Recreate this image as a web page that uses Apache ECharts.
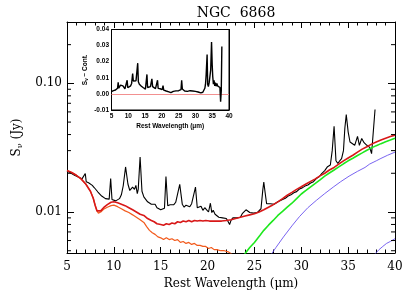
<!DOCTYPE html>
<html><head><meta charset="utf-8">
<script src="https://cdn.jsdelivr.net/npm/echarts@6/dist/echarts.min.js"></script>
<style>html,body{margin:0;padding:0;background:#fff}#c{width:415px;height:297px}</style>
</head><body><div id="c"></div>
<script>
// ---- main panel data ----
const specWave = [5.0,5.2,5.4,5.6,5.8,6.0,6.2,6.4,6.6,6.8,6.95,7.05,7.3,7.5,7.7,7.9,8.1,8.3,8.5,8.7,8.9,9.1,9.3,9.5,9.66,9.8,10.0,10.2,10.4,10.6,10.8,11.0,11.25,11.5,11.7,11.9,12.0,12.2,12.35,12.5,12.6,12.8,13.0,13.2,13.4,13.6,13.8,14.0,14.2,14.4,14.6,14.8,15.0,15.2,15.4,15.56,15.75,16.0,16.2,16.4,16.6,16.8,17.03,17.3,17.5,17.7,17.9,18.1,18.3,18.5,18.71,18.9,19.1,19.3,19.5,19.7,19.9,20.1,20.3,20.45,20.6,20.8,21.0,21.2,21.4,21.6,21.8,22.0,22.2,22.35,22.5,22.7,22.9,23.1,23.3,23.5,23.7,23.9,24.1,24.3,24.5,24.7,24.9,25.1,25.3,25.5,25.7,25.9,26.0,26.15,26.3,26.5,26.7,26.9,27.1,27.3,27.5,27.7,28.0,28.3,28.6,28.9,29.2,29.5,29.8,30.1,30.4,30.7,31.0,31.3,31.6,31.9,32.2,32.5,32.8,33.1,33.3,33.5,33.7,33.9,34.1,34.3,34.5,34.65,34.8,35.0,35.2,35.4,35.7,36.0,36.2,36.45,36.7,37.0,37.3,37.5,37.87];
const specFlux = [0.0208,0.0203,0.0201,0.0195,0.0193,0.0188,0.0187,0.0184,0.0181,0.0175,0.0199,0.0172,0.0169,0.0164,0.0161,0.0155,0.0151,0.0143,0.0140,0.0133,0.0131,0.0127,0.0127,0.0126,0.0182,0.0125,0.0125,0.0122,0.0126,0.0127,0.0136,0.0160,0.0224,0.0165,0.0147,0.0151,0.0156,0.0150,0.0161,0.0139,0.0150,0.0268,0.0145,0.0131,0.0128,0.0120,0.0123,0.0115,0.0114,0.0115,0.0108,0.0108,0.0104,0.0102,0.0107,0.0189,0.0112,0.0114,0.0118,0.0114,0.0119,0.0122,0.0164,0.0115,0.0109,0.0113,0.0114,0.0110,0.0116,0.0112,0.0156,0.0108,0.0106,0.0111,0.0103,0.0108,0.0104,0.0100,0.0117,0.0099,0.0103,0.0096,0.0094,0.0091,0.0090,0.0090,0.0087,0.0089,0.0084,0.0080,0.0086,0.0090,0.0087,0.0090,0.0093,0.0091,0.0097,0.0100,0.0104,0.0101,0.0099,0.0101,0.0098,0.0097,0.0099,0.0099,0.0106,0.0150,0.0171,0.0140,0.0116,0.0113,0.0116,0.0112,0.0115,0.0116,0.0120,0.0120,0.0125,0.0128,0.0133,0.0136,0.0141,0.0144,0.0151,0.0154,0.0159,0.0162,0.0168,0.0172,0.0182,0.0188,0.0200,0.0210,0.0225,0.0232,0.0300,0.0464,0.0250,0.0238,0.0250,0.0260,0.0300,0.0450,0.0571,0.0420,0.0350,0.0340,0.0330,0.0387,0.0330,0.0373,0.0346,0.0330,0.0318,0.0284,0.0627];

const totalWave = [5.0,5.5,6.0,6.5,7.0,7.5,7.8,8.0,8.2,8.35,8.6,8.9,9.3,9.7,10.0,10.4,10.8,11.2,11.6,12.0,12.4,12.8,13.2,13.6,14.0,14.3,14.6,15.0,15.3,15.6,15.9,16.2,16.5,16.8,17.1,17.4,17.7,18.0,18.3,18.6,18.9,19.2,19.5,19.8,20.2,20.6,21.0,21.5,22.0,22.5,23.0,23.5,24.0,24.5,25.0,25.5,26.0,26.5,27.0,27.5,28.0,28.5,29.0,29.5,30.0,30.5,31.0,31.5,32.0,32.5,33.0,33.5,34.0,34.5,35.0,35.5,36.0,36.5,37.0,37.5,38.0,38.5,39.0,39.5,40.0];
const totalFlux = [0.0210,0.0203,0.0193,0.0181,0.0165,0.0145,0.0128,0.0113,0.0102,0.0099,0.0102,0.0108,0.0114,0.0119,0.0120,0.0118,0.0115,0.0112,0.0108,0.0104,0.0100,0.0096,0.0094,0.0089,0.0086,0.0084,0.0081,0.0080,0.0079,0.0081,0.0080,0.0082,0.0081,0.0084,0.0083,0.0085,0.0084,0.0086,0.0084,0.0086,0.0085,0.0086,0.0085,0.0086,0.0085,0.0085,0.0085,0.0085,0.0086,0.0087,0.0089,0.0091,0.0093,0.0095,0.0097,0.0100,0.0104,0.0109,0.0114,0.0120,0.0127,0.0135,0.0142,0.0150,0.0157,0.0165,0.0173,0.0181,0.0191,0.0200,0.0212,0.0222,0.0236,0.0250,0.0263,0.0276,0.0292,0.0308,0.0322,0.0337,0.0350,0.0363,0.0375,0.0386,0.0396];

const starWave = [5.0,5.5,6.0,6.5,7.0,7.5,7.8,8.0,8.2,8.35,8.6,8.9,9.3,9.7,10.0,10.4,10.8,11.2,11.6,12.0,12.4,12.8,13.2,13.5,13.8,14.1,14.4,14.7,15.0,15.3,15.6,15.9,16.2,16.5,16.8,17.1,17.4,17.7,18.0,18.3,18.6,18.9,19.2,19.5,19.8,20.1,20.4,20.7,21.0,21.4,21.8,22.2,22.6,23.0];
const starFlux = [0.0210,0.0203,0.0193,0.0181,0.0165,0.0145,0.0128,0.0113,0.0102,0.0098,0.0100,0.0105,0.0109,0.0112,0.0113,0.0110,0.0106,0.0102,0.0099,0.0095,0.0091,0.0087,0.0083,0.0077,0.0072,0.0069,0.0067,0.0064,0.0063,0.0061,0.0063,0.0061,0.0062,0.0060,0.0061,0.0058,0.0059,0.0057,0.0058,0.0056,0.0057,0.0055,0.0055,0.0054,0.0054,0.0052,0.0053,0.0051,0.0051,0.0050,0.0050,0.0049,0.0047,0.0045];

const greenWave = [23.5,24.0,24.5,25.0,25.6,26.0,26.5,27.0,27.5,28.0,28.5,29.0,29.5,30.0,30.5,31.0,31.5,32.0,32.5,33.0,33.5,34.0,34.5,35.0,35.5,36.0,36.5,37.0,37.5,38.0,38.5,39.0,39.5,40.0];
const greenFlux = [0.0041,0.00475,0.0053,0.0058,0.0066,0.0072,0.0079,0.0086,0.0094,0.0101,0.0109,0.0117,0.0127,0.0138,0.0147,0.0157,0.0167,0.0178,0.0190,0.0201,0.0212,0.0224,0.0237,0.0250,0.0262,0.0275,0.0288,0.0302,0.0315,0.0328,0.0340,0.0352,0.0363,0.0375];

const blueWave = [26.5,26.85,27.3,28.1,29.0,29.8,30.7,31.6,32.5,33.4,34.2,35.1,36.0,36.8,37.3,38.0,38.5,39.2,40.0];
const blueFlux = [0.0040,0.00475,0.0053,0.0064,0.0078,0.0092,0.0108,0.0123,0.0139,0.0156,0.0172,0.0190,0.0207,0.0222,0.0236,0.0250,0.0261,0.0276,0.0292];

const blue2Wave = [37.5,37.9,38.3,38.7,39.1,39.5,40.0];
const blue2Flux = [0.0042,0.00475,0.0051,0.0054,0.0057,0.0059,0.0062];

// ---- inset data (continuum subtracted) ----
const resWave = [5.0,5.3,5.6,5.9,6.2,6.5,6.8,6.99,7.15,7.4,7.7,7.9,8.1,8.4,8.7,9.0,9.3,9.5,9.66,9.85,10.1,10.4,10.7,11.0,11.3,11.5,11.8,12.0,12.3,12.5,12.81,13.0,13.3,13.6,13.9,14.2,14.5,14.8,15.1,15.35,15.56,15.75,16.0,16.3,16.6,16.85,17.03,17.25,17.5,17.8,18.1,18.4,18.71,18.9,19.2,19.5,19.8,20.1,20.35,20.55,20.9,21.3,21.7,22.1,22.4,22.7,23.0,23.4,23.8,24.2,24.6,25.0,25.4,25.7,25.9,26.1,26.4,26.8,27.2,27.6,28.0,28.4,28.8,29.2,29.6,30.0,30.4,30.8,31.2,31.6,31.9,32.2,32.5,32.8,33.0,33.2,33.48,33.65,33.85,34.1,34.35,34.55,34.8,35.0,35.15,35.35,35.55,35.75,35.95,36.15,36.4,36.6,36.85,37.1,37.3,37.5,37.7,37.87];
const resFlux = [0.0015,0.0022,0.0020,0.0028,0.0024,0.0032,0.0035,0.0072,0.0036,0.0045,0.0055,0.0062,0.0060,0.0050,0.0040,0.0032,0.0030,0.0035,0.0085,0.0038,0.0040,0.0045,0.0050,0.0065,0.0127,0.0080,0.0072,0.0085,0.0082,0.0070,0.0191,0.0075,0.0060,0.0052,0.0048,0.0042,0.0038,0.0032,0.0030,0.0035,0.0121,0.0040,0.0036,0.0042,0.0045,0.0050,0.0093,0.0045,0.0038,0.0034,0.0033,0.0036,0.0085,0.0034,0.0030,0.0032,0.0028,0.0026,0.0051,0.0024,0.0020,0.0018,0.0016,0.0013,0.0010,0.0008,0.0012,0.0016,0.0021,0.0019,0.0022,0.0020,0.0024,0.0026,0.0085,0.0030,0.0020,0.0018,0.0021,0.0016,0.0017,0.0020,0.0016,0.0018,0.0015,0.0016,0.0013,0.0012,0.0010,0.0006,0.0004,0.0010,0.0020,0.0035,0.0060,0.0120,0.0245,0.0060,0.0045,0.0070,0.0080,0.0150,0.0322,0.0180,0.0110,0.0060,0.0085,0.0050,0.0070,0.0048,0.0065,0.0050,0.0060,0.0045,0.0040,-0.0048,0.0020,0.0295];

// ---- axes ----
const xMin = 5, xMax = 40, xStep = 5;
const yMin = 0.0048, yMax = 0.30;
const yMinorTicks = [0.005,0.006,0.007,0.008,0.009,0.02,0.03,0.04,0.05,0.06,0.07,0.08,0.09,0.2];
const insetYMin = -0.01, insetYMax = 0.04, insetYStep = 0.01;

const zip = (a, b) => a.map((v, i) => [v, b[i]]);
const serif = 'DejaVu Serif';
const small = 'Liberation Sans';

const chart = echarts.init(document.getElementById('c'), null, {renderer: 'canvas'});

function xAx(grid, pos, showLabel, big) {
  return {
    type: 'value', gridIndex: grid, position: pos, min: xMin, max: xMax, interval: xStep,
    axisLine: {show: true, onZero: false, lineStyle: {color: '#000', width: 1}},
    axisTick: {show: true, inside: true, length: big ? 6 : 3, lineStyle: {color: '#000', width: 1}},
    minorTick: {show: true, splitNumber: 5, length: big ? 3.5 : 2, lineStyle: {color: '#000', width: 1}},
    splitLine: {show: false},
    axisLabel: showLabel ? (big
      ? {show: true, fontFamily: serif, fontSize: 12, color: '#000', margin: 8}
      : {show: true, fontFamily: small, fontWeight: 'bold', fontSize: 6.5, color: '#000', margin: 3})
      : {show: false}
  };
}

const option = {
  animation: false,
  backgroundColor: '#fff',
  title: {
    text: 'NGC  6868', left: 231, top: 1, textAlign: 'center',
    textStyle: {fontFamily: serif, fontSize: 14, fontWeight: 'normal', color: '#000'}
  },
  grid: [
    {left: 67, right: 20, top: 22, bottom: 44, show: false},
    {left: 111.5, right: 186, top: 29.5, bottom: 187, show: true, backgroundColor: '#fff', borderColor: '#000', borderWidth: 1, z: 5}
  ],
  xAxis: [
    Object.assign(xAx(0, 'bottom', true, true), {
      name: 'Rest Wavelength (\u03bcm)', nameLocation: 'middle', nameGap: 21,
      nameTextStyle: {fontFamily: serif, fontSize: 12, color: '#000'}
    }),
    xAx(0, 'top', false, true),
    Object.assign(xAx(1, 'bottom', true, false), {
      name: 'Rest Wavelength (\u03bcm)', nameLocation: 'middle', nameGap: 13,
      nameTextStyle: {fontFamily: small, fontWeight: 'bold', fontSize: 6.5, color: '#000'}
    }),
    xAx(1, 'top', false, false)
  ],
  yAxis: [
    {
      type: 'log', logBase: 10, gridIndex: 0, position: 'left', min: yMin, max: yMax,
      axisLine: {show: true, onZero: false, lineStyle: {color: '#000'}},
      axisTick: {show: true, inside: true, length: 7, lineStyle: {color: '#000', width: 1}},
      splitLine: {show: false},
      axisLabel: {
        fontFamily: serif, fontSize: 12, color: '#000', margin: 5, showMinLabel: false, showMaxLabel: false,
        formatter: v => (Math.abs(Math.log10(v) - Math.round(Math.log10(v))) < 1e-6 ? v.toFixed(2) : '')
      },
      name: '{a|S}{b|\u03bd}{a| (Jy)}', nameLocation: 'middle', nameGap: 31, nameRotate: 90,
      nameTextStyle: {
        rich: {
          a: {fontFamily: serif, fontSize: 12, color: '#000', lineHeight: 16, verticalAlign: 'middle'},
          b: {fontFamily: serif, fontSize: 8, color: '#000', lineHeight: 16, verticalAlign: 'bottom'}
        }
      }
    },
    {
      type: 'log', logBase: 10, gridIndex: 0, position: 'right', min: yMin, max: yMax,
      axisLine: {show: true, onZero: false, lineStyle: {color: '#000'}},
      axisTick: {show: true, inside: true, length: 7, lineStyle: {color: '#000', width: 1}},
      splitLine: {show: false}, axisLabel: {show: false}
    },
    {
      type: 'value', gridIndex: 1, position: 'left', min: insetYMin, max: insetYMax, interval: insetYStep,
      axisLine: {show: true, onZero: false, lineStyle: {color: '#000'}},
      axisTick: {show: true, inside: true, length: 3, lineStyle: {color: '#000'}},
      splitLine: {show: false},
      axisLabel: {fontFamily: small, fontWeight: 'bold', fontSize: 6.5, color: '#000', margin: 2.5,
        formatter: v => v.toFixed(2)},
      name: '{a|S}{b|\u03bd}{a| \u2212 Cont.}', nameLocation: 'middle', nameGap: 22, nameRotate: 90,
      nameTextStyle: {
        rich: {
          a: {fontFamily: small, fontWeight: 'bold', fontSize: 6.5, color: '#000', lineHeight: 9},
          b: {fontFamily: small, fontWeight: 'bold', fontSize: 4.5, color: '#000', lineHeight: 9, verticalAlign: 'bottom'}
        }
      }
    },
    {
      type: 'value', gridIndex: 1, position: 'right', min: insetYMin, max: insetYMax, interval: insetYStep,
      axisLine: {show: true, onZero: false, lineStyle: {color: '#000'}},
      axisTick: {show: true, inside: true, length: 3, lineStyle: {color: '#000'}},
      splitLine: {show: false}, axisLabel: {show: false}
    }
  ],
  series: [
    {type: 'line', xAxisIndex: 0, yAxisIndex: 0, data: zip(specWave, specFlux), symbol: 'none',
      lineStyle: {color: '#000', width: 1.1}, z: 2},
    {type: 'line', xAxisIndex: 0, yAxisIndex: 0, data: zip(starWave, starFlux), symbol: 'none',
      lineStyle: {color: '#f25a1c', width: 1.2}, z: 3},
    {type: 'line', xAxisIndex: 0, yAxisIndex: 0, data: zip(greenWave, greenFlux), symbol: 'none',
      lineStyle: {color: '#1ee81e', width: 1.6}, z: 3},
    {type: 'line', xAxisIndex: 0, yAxisIndex: 0, data: zip(blueWave, blueFlux), symbol: 'none',
      lineStyle: {color: '#6a52ee', width: 0.9}, z: 3},
    {type: 'line', xAxisIndex: 0, yAxisIndex: 0, data: zip(blue2Wave, blue2Flux), symbol: 'none',
      lineStyle: {color: '#6a52ee', width: 0.9}, z: 3},
    {type: 'line', xAxisIndex: 0, yAxisIndex: 0, data: zip(totalWave, totalFlux), symbol: 'none',
      lineStyle: {color: '#d81818', width: 1.6}, z: 4},
    {
      type: 'custom', xAxisIndex: 0, yAxisIndex: 0, silent: true, clip: false, z: 6,
      data: yMinorTicks.map(v => [xMin, v]),
      renderItem: (params, api) => {
        const v = api.value(1);
        const pL = api.coord([xMin, v]);
        const pR = api.coord([xMax, v]);
        return {type: 'group', children: [
          {type: 'line', shape: {x1: pL[0], y1: pL[1], x2: pL[0] + 4, y2: pL[1]}, style: {stroke: '#000', lineWidth: 1}},
          {type: 'line', shape: {x1: pR[0], y1: pR[1], x2: pR[0] - 4, y2: pR[1]}, style: {stroke: '#000', lineWidth: 1}}
        ]};
      }
    },
    {type: 'line', xAxisIndex: 2, yAxisIndex: 2, data: zip(resWave, resFlux), symbol: 'none',
      lineStyle: {color: '#000', width: 1.4}, z: 8,
      markLine: {silent: true, symbol: 'none', label: {show: false},
        lineStyle: {color: '#f29090', width: 1, type: 'solid'}, data: [{yAxis: 0}]}}
  ]
};
chart.setOption(option);
</script>
</body></html>
